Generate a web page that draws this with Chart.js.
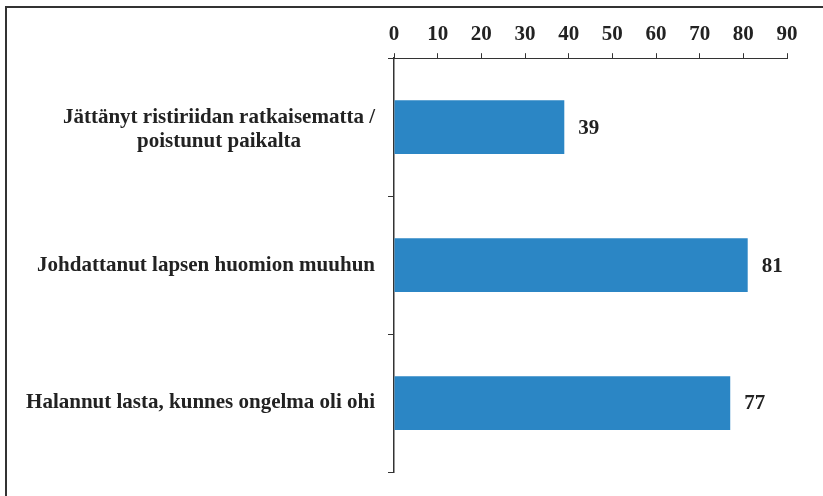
<!DOCTYPE html>
<html>
<head>
<meta charset="utf-8">
<script src="https://cdn.jsdelivr.net/npm/chart.js@4"></script>
<style>
    body { margin: 0; background: #fff; }
    #wrap { position: relative; width: 823px; height: 496px; overflow: hidden; }
    #frame { position: absolute; left: 5px; top: 6px; width: 820px; height: 520px; border: 2px solid #333; box-sizing: border-box; pointer-events: none; }
</style>
</head>
<body>
<div id="wrap">
    <canvas id="barChart" width="823" height="496"></canvas>
    <div id="frame"></div>
</div>
<script>
const categories = [
    ['Jättänyt ristiriidan ratkaisematta /', 'poistunut paikalta'],
    ['Johdattanut lapsen huomion muuhun'],
    ['Halannut lasta, kunnes ongelma oli ohi']
];
const values = [39, 81, 77];
const xTicks = [0, 10, 20, 30, 40, 50, 60, 70, 80, 90];

const FONT = '"Liberation Serif", "Times New Roman", serif';
const ink = '#222';

// category labels: block right-aligned, lines centered inside the block
const catLabels = {
    id: 'catLabels',
    afterDraw(chart) {
        const ctx = chart.ctx, y = chart.scales.y;
        ctx.save();
        ctx.font = 'bold 21px ' + FONT;
        ctx.fillStyle = ink;
        ctx.textAlign = 'center';
        ctx.textBaseline = 'middle';
        const right = y.right - 19;
        categories.forEach((lines, i) => {
            const w = Math.max(...lines.map(l => ctx.measureText(l).width));
            const cx = right - w / 2;
            const cy = y.getPixelForValue(i) + (lines.length > 1 ? 2 : 0);
            const lh = 24;
            lines.forEach((l, j) => {
                ctx.fillText(l, cx, cy + (j - (lines.length - 1) / 2) * lh);
            });
        });
        ctx.restore();
    }
};

const valueLabels = {
    id: 'valueLabels',
    afterDatasetsDraw(chart) {
        const ctx = chart.ctx;
        const meta = chart.getDatasetMeta(0);
        ctx.save();
        ctx.font = 'bold 21px ' + FONT;
        ctx.fillStyle = ink;
        ctx.textAlign = 'left';
        ctx.textBaseline = 'middle';
        meta.data.forEach((bar, i) => {
            ctx.fillText(values[i], bar.x + 14, bar.y + 1);
        });
        ctx.restore();
    }
};

new Chart(document.getElementById('barChart'), {
    type: 'bar',
    data: {
        labels: categories,
        datasets: [{
            data: values,
            backgroundColor: '#2b86c5',
            borderWidth: 0,
            categoryPercentage: 1,
            barPercentage: 0.39
        }]
    },
    options: {
        indexAxis: 'y',
        responsive: false,
        animation: false,
        layout: { padding: { top: 16, right: 36, bottom: 24, left: 0 } },
        plugins: { legend: { display: false }, tooltip: { enabled: false } },
        scales: {
            x: {
                position: 'top',
                min: 0, max: 90,
                afterBuildTicks: (s) => { s.ticks = xTicks.map(v => ({ value: v })); },
                ticks: { color: ink, padding: 6, font: { family: FONT, size: 21, weight: 'bold' } },
                grid: { drawOnChartArea: false, drawTicks: true, tickLength: 5, color: '#333', lineWidth: 1 },
                border: { color: '#333', width: 1 }
            },
            y: {
                afterFit: (s) => { s.width = 394; },
                ticks: { display: false },
                grid: { drawOnChartArea: false, drawTicks: true, tickLength: 6, color: '#333', lineWidth: 1 },
                border: { color: '#333', width: 1.5 }
            }
        }
    },
    plugins: [catLabels, valueLabels]
});
</script>
</body>
</html>
